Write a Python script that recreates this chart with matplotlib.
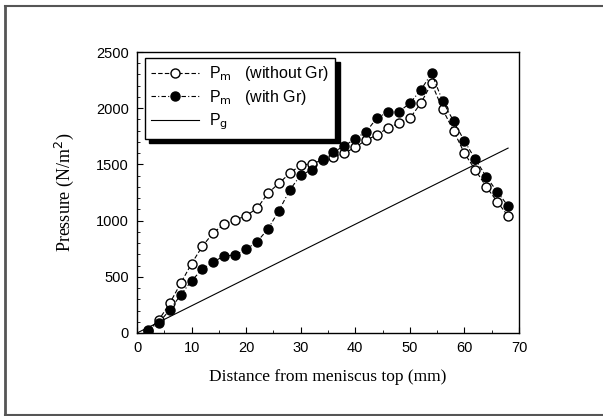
import matplotlib
matplotlib.use("Agg")
import matplotlib.pyplot as plt
from matplotlib.lines import Line2D
from matplotlib.ticker import MultipleLocator

# Data
distance = [2, 4, 6, 8, 10, 12, 14, 16, 18, 20, 22, 24, 26, 28, 30, 32, 34,
            36, 38, 40, 42, 44, 46, 48, 50, 52, 54, 56, 58, 60, 62, 64, 66, 68]
pm_without_gr = [20, 116, 264, 442, 617, 774, 892, 970, 1005, 1044, 1109, 1243,
                 1332, 1421, 1495, 1504, 1540, 1569, 1600, 1652, 1717, 1762,
                 1826, 1866, 1910, 2044, 2222, 1990, 1800, 1599, 1450, 1302,
                 1168, 1041]
pm_with_gr = [27, 92, 205, 338, 465, 569, 634, 685, 694, 745, 812, 925, 1088,
              1272, 1406, 1450, 1545, 1610, 1664, 1729, 1791, 1915, 1964, 1969,
              2044, 2162, 2310, 2064, 1886, 1708, 1545, 1391, 1257, 1130]
pg_distance = [0, 68]
pg_values = [0, 1645]

labels = [r"P$_{\mathrm{m}}$   (without Gr)", r"P$_{\mathrm{m}}$   (with Gr)", r"P$_{\mathrm{g}}$"]
xlabel = "Distance from meniscus top (mm)"
ylabel = "Pressure (N/m$^2$)"

fig = plt.figure(figsize=(6.03, 4.16), dpi=100)
ax = fig.add_axes([137/603, 1-333/416, (519-137)/603, (333-52)/416])

ax.plot(distance, pm_without_gr, linestyle=(0, (4, 2)), color='black', lw=0.8,
        marker='o', markersize=6.5, markerfacecolor='white',
        markeredgecolor='black', markeredgewidth=1.0, label=labels[0])
ax.plot(distance, pm_with_gr, linestyle=(0, (4, 2, 1, 2)), color='black', lw=0.8,
        marker='o', markersize=6.5, markerfacecolor='black',
        markeredgecolor='black', label=labels[1])
ax.plot(pg_distance, pg_values, linestyle='-', color='black', lw=0.8,
        label=labels[2])

ax.set_xlim(0, 70)
ax.set_ylim(0, 2500)
ax.xaxis.set_major_locator(MultipleLocator(10))
ax.xaxis.set_minor_locator(MultipleLocator(5))
ax.yaxis.set_major_locator(MultipleLocator(500))
ax.yaxis.set_minor_locator(MultipleLocator(100))
ax.tick_params(which='both', direction='in', top=False, right=False)
ax.tick_params(which='major', length=4, width=0.8, labelsize=10.5, pad=6)
ax.tick_params(which='minor', length=2, width=0.6)
for lab in ax.get_xticklabels() + ax.get_yticklabels():
    lab.set_fontfamily('Liberation Sans')
for s in ax.spines.values():
    s.set_linewidth(1.0)

ax.set_xlabel(xlabel, family='Liberation Serif', fontsize=12.5, labelpad=10)
ax.set_ylabel(ylabel, family='Liberation Serif', fontsize=13, labelpad=14)

leg = ax.legend(loc='upper left', bbox_to_anchor=(0.021, 0.979), frameon=True,
                borderaxespad=0.0,
                fancybox=False, shadow={'color': 'black', 'alpha': 1.0, 'ox': 3, 'oy': -3},
                prop={'family': 'Liberation Sans', 'size': 11.5},
                handlelength=3.0, borderpad=0.4, labelspacing=0.3,
                handletextpad=0.6)
leg.get_frame().set_edgecolor('black')
leg.get_frame().set_linewidth(1.0)

# outer figure border (left, top, bottom)
c = '#555555'
fig.add_artist(Line2D([5/603, 5/603], [0, 1-6/416], transform=fig.transFigure, color=c, lw=2))
fig.add_artist(Line2D([5/603, 1], [1-6/416, 1-6/416], transform=fig.transFigure, color=c, lw=1.5))
fig.add_artist(Line2D([5/603, 1], [1.5/416, 1.5/416], transform=fig.transFigure, color=c, lw=1.5))

fig.savefig('out.png', dpi=100)
